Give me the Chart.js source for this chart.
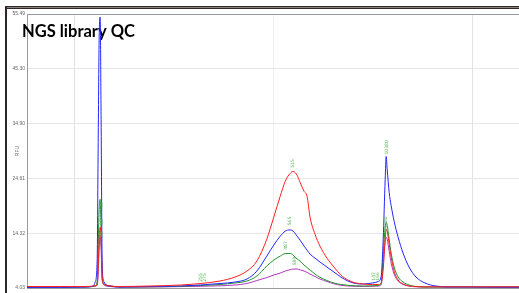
<!DOCTYPE html>
<html>
<head>
<meta charset="utf-8">
<title>NGS library QC</title>
<script src="https://cdn.jsdelivr.net/npm/chart.js@4.4.1/dist/chart.umd.min.js"></script>
<style>
  html, body { margin: 0; padding: 0; background: #fff; }
  canvas { display: block; }
</style>
</head>
<body>
<canvas id="chart" width="519" height="293"></canvas>
<script>
// migration time (s)
const times = [30.4, 37.0, 42.1, 43.7, 44.1, 44.5, 44.7, 44.9, 45.1, 45.3, 45.5, 45.7, 45.9, 46.3, 47.1, 49.1,
  55.1, 61.2, 65.2, 69.2, 72.2, 74.6, 76.6, 78.6, 80.0, 81.3, 82.3, 83.3, 83.9, 84.7, 85.3, 86.1, 86.7, 87.3, 88.3, 89.3,
  90.7, 92.1, 93.5, 94.9, 96.5, 98.1, 99.8, 101.0, 101.6,
  102.0, 102.4, 102.6, 102.8, 103.2, 103.6, 104.2, 105.0, 106.0, 107.2, 108.6, 110.4, 112.6, 115.4, 119.5, 124.5, 129.3]

// fluorescence (RFU) per sample
const red = [4.31, 4.31, 4.31, 4.40, 4.50, 4.59, 7.59, 13.20, 15.44, 13.20, 6.65, 4.97, 4.69, 4.59, 4.40, 4.31,
  4.40, 4.59, 4.87, 5.34, 6.09, 7.21, 9.08, 13.20, 17.32, 21.25, 24.05, 25.55, 25.92, 25.18, 23.87, 22.18, 21.25, 17.32, 14.13, 11.89,
  9.64, 7.96, 6.46, 5.53, 4.97, 4.78, 4.69, 4.69, 4.97,
  7.59, 13.20, 15.07, 14.70, 12.26, 9.83, 7.21, 5.53, 4.78, 4.40, 4.31, 4.25, 4.25, 4.25, 4.25, 4.25, 4.25]
const blue = [4.16, 4.16, 4.22, 4.40, 5.15, 9.08, 30.04, 50.62, 54.93, 35.65, 9.46, 5.71, 5.15, 4.59, 4.40, 4.22,
  4.31, 4.40, 4.59, 4.87, 5.15, 5.71, 7.21, 10.02, 12.08, 13.76, 14.70, 14.94, 14.70, 13.76, 13.01, 11.89, 11.14, 10.39, 9.64, 8.90,
  7.96, 7.02, 6.09, 5.34, 4.87, 4.78, 4.97, 5.25, 6.27,
  13.20, 24.43, 28.73, 26.4, 22.0, 19.5, 16.57, 13.57, 10.58, 7.96, 6.09, 4.97, 4.40, 4.22, 4.22, 4.16, 4.16]
const green = [4.22, 4.22, 4.22, 4.31, 4.40, 5.34, 11.33, 18.81, 20.68, 14.13, 6.09, 4.97, 4.78, 4.59, 4.40, 4.25,
  4.25, 4.35, 4.50, 4.69, 4.97, 5.34, 6.27, 8.15, 9.27, 10.02, 10.49, 10.52, 10.21, 9.46, 9.08, 8.33, 7.87, 7.40, 6.65, 6.03,
  5.43, 4.97, 4.69, 4.54, 4.44, 4.40, 4.44, 4.50, 4.97,
  10.39, 15.44, 16.38, 15.82, 13.20, 10.58, 7.96, 6.09, 5.15, 4.59, 4.31, 4.22, 4.22, 4.22, 4.22, 4.22, 4.22]
const purple = [4.16, 4.16, 4.22, 4.31, 4.35, 4.59, 6.65, 11.33, 13.95, 11.33, 5.71, 4.78, 4.59, 4.40, 4.31, 4.16,
  4.22, 4.29, 4.35, 4.44, 4.59, 4.87, 5.43, 5.99, 6.46, 6.84, 7.21, 7.49, 7.59, 7.59, 7.44, 7.21, 6.97, 6.65, 6.18, 5.71,
  5.25, 4.82, 4.54, 4.40, 4.35, 4.31, 4.35, 4.40, 4.69,
  8.52, 12.82, 13.57, 13.20, 10.95, 8.71, 6.65, 5.34, 4.69, 4.40, 4.25, 4.22, 4.22, 4.22, 4.22, 4.22, 4.22]

const yTicks = [4.03, 14.32, 24.61, 34.90, 45.30, 55.49]
const xTicks = [40, 80, 120]

// peak size labels (bp), placed just above each peak
const peakLabels = ["35", "35", "35", "515", "565", "487", "589", "10380", "10380", "255", "275", "147", "166"]
const peakTimes = [45.4, 45.4, 45.4, 83.9, 83.3, 82.5, 84.3, 102.7, 102.6, 65.4, 66.2, 100.2, 101.0]
const peakValues = [19.1, 15.9, 13.5, 26.6, 15.8, 11.2, 8.3, 29.1, 14.8, 5.2, 5.2, 5.4, 5.4]

const toPoints = (vals) => times.map((t, i) => ({ x: t, y: vals[i] }))

const frameAndText = {
  id: "frameAndText",
  beforeDraw(chart) {
    const { ctx } = chart
    ctx.save()
    ctx.fillStyle = "#2e2926"
    ctx.fillRect(5, 6, 514, 1)
    ctx.fillRect(5, 8, 514, 1)
    ctx.fillStyle = "#8a8480"
    ctx.fillRect(5, 7, 514, 1)
    ctx.fillStyle = "#2e2926"
    ctx.fillRect(5, 6, 2, 287)
    ctx.restore()
  },
  beforeDatasetsDraw(chart) {
    const { ctx } = chart
    ctx.save()
    ctx.fillStyle = "#000"
    ctx.font = "bold 16.5px Lato"
    ctx.textBaseline = "alphabetic"
    ctx.fillText("NGS library QC", 22, 36.5)
    ctx.restore()
  },
  afterDatasetsDraw(chart) {
    const { ctx, scales } = chart
    ctx.save()
    ctx.fillStyle = "#5cb85c"
    ctx.font = "4.5px 'DejaVu Sans'"
    ctx.textAlign = "left"
    ctx.textBaseline = "middle"
    peakLabels.forEach((txt, i) => {
      const x = scales.x.getPixelForValue(peakTimes[i])
      const y = scales.y.getPixelForValue(peakValues[i])
      ctx.save()
      ctx.translate(x, y)
      ctx.rotate(-Math.PI / 2)
      ctx.fillText(txt, 0, 0)
      ctx.restore()
    })
    ctx.restore()
  },
}

const line = (vals, color) => ({
  data: toPoints(vals),
  borderColor: color,
  borderWidth: 1,
  pointRadius: 0,
  cubicInterpolationMode: "monotone",
  fill: false,
})

new Chart(document.getElementById("chart"), {
  type: "line",
  data: {
    datasets: [
      line(red, "#ff1e1e"),
      line(blue, "#2424ff"),
      line(green, "#22922a"),
      line(purple, "#b236c0"),
    ],
  },
  options: {
    responsive: false,
    animation: false,
    devicePixelRatio: 1,
    layout: { padding: { top: 14, bottom: 4, left: 0, right: 0 } },
    plugins: { legend: { display: false }, tooltip: { enabled: false } },
    scales: {
      x: {
        type: "linear",
        min: 30.4,
        max: 129.3,
        afterBuildTicks: (s) => { s.ticks = xTicks.map((v) => ({ value: v })) },
        afterFit: (s) => { s.height = 0 },
        ticks: { display: false },
        grid: {
          drawTicks: false,
          color: (c) => (c.tick && c.tick.value === 80 ? "#f0f0f0" : "#e2e2e2"),
        },
        border: { display: true, color: "#9a9a9a" },
      },
      y: {
        min: 4.03,
        max: 55.49,
        afterBuildTicks: (s) => { s.ticks = yTicks.map((v) => ({ value: v })) },
        afterFit: (s) => { s.width = 27 },
        ticks: {
          padding: 2,
          color: "#666",
          font: { size: 5, family: "'Liberation Sans'" },
          callback: (v) => v.toFixed(2),
        },
        grid: {
          drawTicks: false,
          color: (c) => (c.tick && c.tick.value === 55.49 ? "#9a9a9a" : "#e6e6e6"),
        },
        border: { display: true, color: "#9a9a9a" },
        title: {
          display: true,
          text: "RFU",
          color: "#666",
          font: { size: 5, family: "'Liberation Sans'" },
          padding: { top: 15, bottom: 0 },
        },
      },
    },
  },
  plugins: [frameAndText],
})
</script>
</body>
</html>
